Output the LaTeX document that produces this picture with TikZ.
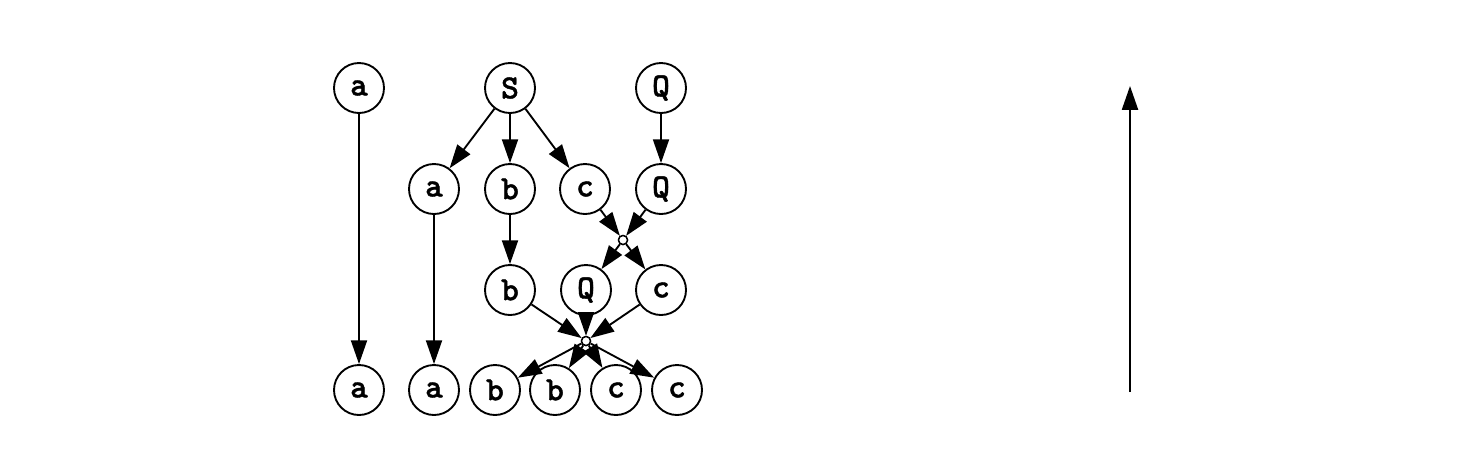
\documentclass[tikz,border=0pt]{standalone}
\usepackage{fontspec}
\newfontfamily\symfont{lmmonolt10-bold.otf}[FakeBold=1.2]
\usetikzlibrary{arrows.meta}
\begin{document}
\begin{tikzpicture}[x=0.4pt,y=-0.4pt,
  sym/.style={circle,draw,line width=0.75pt,minimum size=20pt,inner sep=0pt,font=\symfont\fontsize{13.5}{14}\selectfont},
  junc/.style={circle,draw,fill=white,line width=0.55pt,minimum size=3.6pt,inner sep=0pt},
  arr/.style={line width=0.75pt,-{Triangle[length=9.5pt,width=6.4pt]}}]
\useasboundingbox (0,0) rectangle (1457,455);
% row 1
\node[sym] (a1) at (359,88) {a};
\node[sym] (S) at (510,88) {S};
\node[sym] (Q1) at (661,88) {Q};
% row 2
\node[sym] (a2) at (434,189) {a};
\node[sym] (b2) at (510,189) {b};
\node[sym] (c2) at (585,189) {c};
\node[sym] (Q2) at (661,189) {Q};
% junction 1
\node[junc] (j1) at (623,240) {};
% row 3
\node[sym] (b3) at (510,290) {b};
\node[sym] (Q3) at (586,290) {Q};
\node[sym] (c3) at (661,290) {c};
% junction 2
\node[junc] (j2) at (586,341) {};
% row 4
\node[sym] (a4) at (359,390) {a};
\node[sym] (a5) at (434,390) {a};
\node[sym] (b4) at (495,390) {b};
\node[sym] (b5) at (555,390) {b};
\node[sym] (c4) at (616,390) {c};
\node[sym] (c5) at (677,390) {c};
% edges
\draw[arr] (a1) -- (a4);
\draw[arr] (S) -- (a2);
\draw[arr] (S) -- (b2);
\draw[arr] (S) -- (c2);
\draw[arr] (Q1) -- (Q2);
\draw[arr] (a2) -- (a5);
\draw[arr] (b2) -- (b3);
\draw[arr] (c2) -- (j1);
\draw[arr] (Q2) -- (j1);
\draw[arr] (j1) -- (Q3);
\draw[arr] (j1) -- (c3);
\draw[arr] (b3) -- (j2);
\draw[arr] (Q3) -- (j2);
\draw[arr] (c3) -- (j2);
\draw[arr] (j2) -- (b4);
\draw[arr] (j2) -- (b5);
\draw[arr] (j2) -- (c4);
\draw[arr] (j2) -- (c5);
\node[junc] at (j1) {};
\node[junc] at (j2) {};
% right arrow
\coordinate (r0) at (1130,392);
\coordinate (r1) at (1130,86);
\draw[arr] (r0) -- (r1);
\end{tikzpicture}
\end{document}
